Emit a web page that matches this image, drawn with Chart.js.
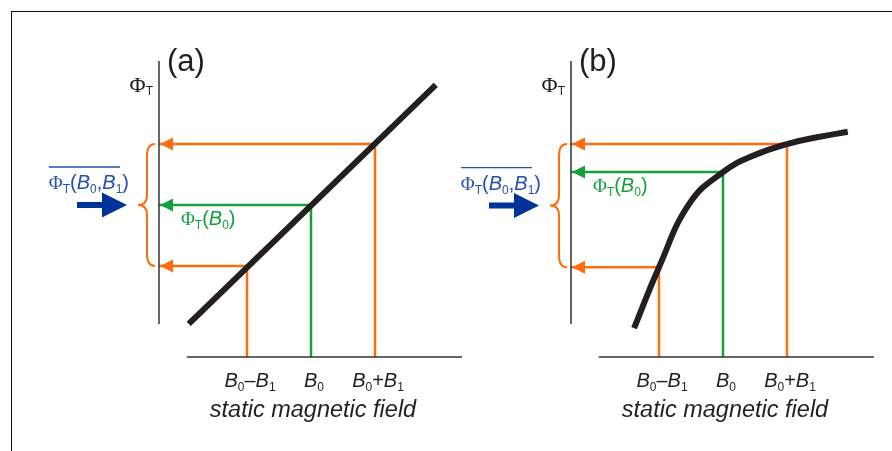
<!DOCTYPE html>
<html>
<head>
<meta charset="utf-8">
<script src="https://cdn.jsdelivr.net/npm/chart.js@4.4.1/dist/chart.umd.min.js"></script>
<style>
  html, body { margin: 0; padding: 0; background: #fff; overflow: hidden; }
  #wrap { position: relative; width: 892px; height: 451px; }
  #frame { position: absolute; left: 11px; top: 11px; width: 1000px; height: 1000px;
           border-top: 1.5px solid #111; border-left: 1.5px solid #111; }
  #fig { position: absolute; left: 0; top: 0; }
</style>
</head>
<body>
<div id="wrap">
  <div id="frame"></div>
  <canvas id="fig" width="892" height="451"></canvas>
</div>
<script>
// field values in units of B1, with B0 = 3 and B1 = 1
const fieldTicks = [2, 3, 4];
const tickLabels = ['B0-B1', 'B0', 'B0+B1'];

// (a) linear response
const linearField = [1.09, 4.95];
const linearFlux = [1.05, 4.97];
const linearReadout = [2.0, 3.0, 4.0];

// (b) saturating response
const satField = [1.61, 2.0, 2.48, 3.0, 3.45, 4.0, 4.47, 4.95];
const satFlux = [0.98, 1.98, 3.03, 3.54, 3.8, 4.0, 4.11, 4.2];
const satReadout = [1.98, 3.54, 4.0];

// where the drawn axes sit, in data units
const AX = { yAxisX: 0.625, yTop: 5.36, yBottom: 1.05, xAxisY: 0.508, xLeft: 1.06, xRight: 5.36 };

const ORANGE = '#ff6d10';
const GREEN = '#16a03c';
const BLUE = '#003399';
const BLUE_TEXT = '#2352a8';
const INK = '#231f20';
const SANS = '"Liberation Sans", Arial, sans-serif';
const SERIF = '"Liberation Serif", "Times New Roman", serif';

function panelDatasets(xid, field, flux, readout, smooth) {
    const ds = [];
    ds.push({ data: [{x: AX.yAxisX, y: AX.yTop}, {x: AX.yAxisX, y: AX.yBottom}], borderColor: '#333', borderWidth: 1.5 });
    ds.push({ data: [{x: AX.xLeft, y: AX.xAxisY}, {x: AX.xRight, y: AX.xAxisY}], borderColor: '#333', borderWidth: 1.5 });
    fieldTicks.forEach((b, i) => {
        ds.push({
            data: [{x: AX.yAxisX, y: readout[i]}, {x: b, y: readout[i]}, {x: b, y: AX.xAxisY}],
            borderColor: i === 1 ? GREEN : ORANGE,
            borderWidth: 2.5
        });
    });
    ds.push({
        data: field.map((x, i) => ({x: x, y: flux[i]})),
        borderColor: INK,
        borderWidth: 6,
        tension: smooth ? 0.45 : 0,
        order: 0
    });
    ds.forEach(d => {
        d.xAxisID = xid;
        d.yAxisID = 'y';
        d.pointRadius = 0;
        d.fill = false;
        d.borderCapStyle = 'butt';
        d.borderJoinStyle = 'miter';
        if (d.order === undefined) d.order = 1;
    });
    return ds;
}

// draws a row of text pieces [text, font, dy], returns its extent
function drawRuns(ctx, runs, x, y, align) {
    let w = 0;
    runs.forEach(r => { ctx.font = r[1]; w += ctx.measureText(r[0]).width; });
    let cx = align === 'center' ? x - w / 2 : align === 'right' ? x - w : x;
    const left = cx;
    ctx.textAlign = 'left';
    ctx.textBaseline = 'alphabetic';
    runs.forEach(r => {
        ctx.font = r[1];
        ctx.fillText(r[0], cx, y + (r[2] || 0));
        cx += ctx.measureText(r[0]).width;
    });
    return { left: left, right: left + w };
}

const big = 20, sub = 12;
const phiT = [['\u03A6', `19px ${SERIF}`], ['T', `${sub}px ${SANS}`, 4]];
const B = s => [['B', `italic ${big}px ${SANS}`], [s, `${sub}px ${SANS}`, 4]];
const plain = s => [[s, `${big}px ${SANS}`]];
const meanLabel = [].concat(phiT, plain('('), B('0'), plain(','), B('1'), plain(')'));
const greenLabel = [].concat(phiT, plain('('), B('0'), plain(')'));
const tickRuns = [
    [].concat(B('0'), plain('\u2013'), B('1')),
    B('0'),
    [].concat(B('0'), plain('+'), B('1'))
];

const panels = [
    { xid: 'xa', readout: linearReadout, letter: '(a)' },
    { xid: 'xb', readout: satReadout, letter: '(b)' }
];

const decor = {
    id: 'decor',
    afterDatasetsDraw(chart) {
        const ctx = chart.ctx;
        const ys = chart.scales.y;
        ctx.save();
        panels.forEach(p => {
            const xs = chart.scales[p.xid];
            const ax = xs.getPixelForValue(AX.yAxisX);
            const top = ys.getPixelForValue(AX.yTop);
            const base = ys.getPixelForValue(AX.xAxisY);
            const ly = p.readout.map(f => ys.getPixelForValue(f));
            const mid = (ly[0] + ly[2]) / 2;

            // arrowheads on the flux axis
            ly.forEach((y, i) => {
                ctx.fillStyle = i === 1 ? GREEN : ORANGE;
                ctx.beginPath();
                ctx.moveTo(ax + 1, y);
                ctx.lineTo(ax + 14, y - 6.5);
                ctx.lineTo(ax + 14, y + 6.5);
                ctx.closePath();
                ctx.fill();
            });

            // curly brace
            const e = ax - 4, b = ax - 12, t = ax - 21;
            ctx.strokeStyle = ORANGE;
            ctx.lineWidth = 2;
            ctx.beginPath();
            ctx.moveTo(e, ly[2]);
            ctx.quadraticCurveTo(b, ly[2], b, ly[2] + 12);
            ctx.lineTo(b, mid - 10);
            ctx.quadraticCurveTo(b, mid, t, mid);
            ctx.quadraticCurveTo(b, mid, b, mid + 10);
            ctx.lineTo(b, ly[0] - 12);
            ctx.quadraticCurveTo(b, ly[0], e, ly[0]);
            ctx.stroke();

            // blue arrow
            ctx.fillStyle = BLUE;
            ctx.beginPath();
            ctx.moveTo(ax - 82, mid - 3);
            ctx.lineTo(ax - 57, mid - 3);
            ctx.lineTo(ax - 57, mid - 12.5);
            ctx.lineTo(ax - 32, mid);
            ctx.lineTo(ax - 57, mid + 12.5);
            ctx.lineTo(ax - 57, mid + 3);
            ctx.lineTo(ax - 82, mid + 3);
            ctx.closePath();
            ctx.fill();

            // mean flux label with overline
            ctx.fillStyle = BLUE_TEXT;
            const ext = drawRuns(ctx, meanLabel, ax - 30, mid - 16, 'right');
            ctx.strokeStyle = BLUE_TEXT;
            ctx.lineWidth = 1.3;
            ctx.beginPath();
            ctx.moveTo(ext.left, mid - 38);
            ctx.lineTo(ext.right - 9, mid - 38);
            ctx.stroke();

            // flux at B0
            ctx.fillStyle = GREEN;
            drawRuns(ctx, greenLabel, ax + 22, ly[1] + 20, 'left');

            // axis title and panel letter
            ctx.fillStyle = INK;
            drawRuns(ctx, [['\u03A6', `22px ${SERIF}`], ['T', `${sub}px ${SANS}`, 3]], ax - 6, top + 31, 'right');
            drawRuns(ctx, [[p.letter, `31px ${SANS}`]], ax + 8, top + 10, 'left');

            // field ticks and field title
            fieldTicks.forEach((v, i) => {
                drawRuns(ctx, tickRuns[i], xs.getPixelForValue(v) + 3, base + 30, 'center');
            });
            drawRuns(ctx, [['static magnetic field', `italic 23.5px ${SANS}`]],
                     xs.getPixelForValue(fieldTicks[1]) + 2, base + 60, 'center');
        });
        ctx.restore();
    }
};

new Chart(document.getElementById('fig').getContext('2d'), {
    type: 'line',
    data: {
        datasets: [].concat(
            panelDatasets('xa', linearField, linearFlux, linearReadout, false),
            panelDatasets('xb', satField, satFlux, satReadout, true)
        )
    },
    options: {
        responsive: false,
        animation: false,
        layout: { padding: 0 },
        plugins: {
            legend: { display: false },
            tooltip: { enabled: false },
            title: { display: false }
        },
        scales: {
            xa: { type: 'linear', display: false, min: -1.859, max: 12.078 },
            xb: { type: 'linear', display: false, min: -8.297, max: 5.641 },
            y: { type: 'linear', display: false, min: -1.033, max: 6.361 }
        }
    },
    plugins: [decor]
});
</script>
</body>
</html>
